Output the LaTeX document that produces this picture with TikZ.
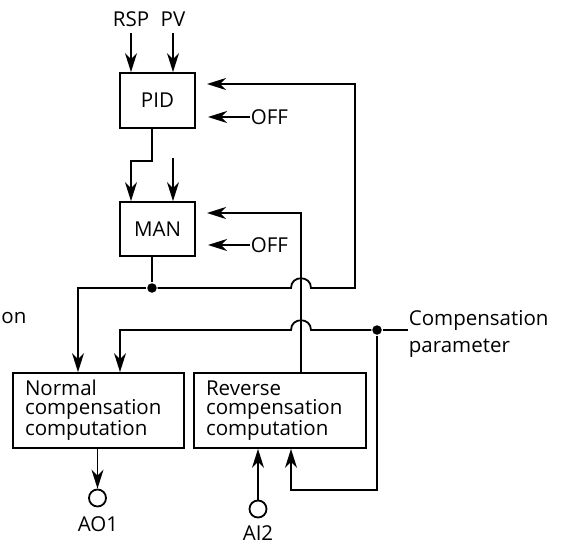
\documentclass[tikz,border=0pt]{standalone}
\usepackage{fontspec}
\setmainfont{Open Sans}
\usetikzlibrary{arrows.meta,calc}
\begin{document}
\begin{tikzpicture}[x=1pt,y=-1pt, line width=1.8pt,
  every node/.style={font=\fontsize{20.5}{19}\selectfont, inner sep=0pt},
  box/.style={draw, rectangle, line width=1.8pt},
  arr/.style={-{Stealth[length=19pt,width=12pt,inset=6pt]}},
  dot/.style={circle, fill, minimum size=9.5pt, inner sep=0pt},
  port/.style={circle, draw, minimum size=17pt, inner sep=0pt, line width=1.8pt}]
\useasboundingbox (0,0) rectangle (563,546);

% boxes
\node[box, minimum width=75pt, minimum height=55pt] (pid) at (157.5,100.5) {PID};
\node[box, minimum width=75pt, minimum height=54pt] (man) at (157.5,229) {MAN};
\node[box, minimum width=171pt, minimum height=75pt, text width=147pt, align=left] (norm) at (98.5,410.5) {Normal\\compensation\\computation};
\node[box, minimum width=172pt, minimum height=75pt, text width=148pt, align=left] (rev) at (280,410.5) {Reverse\\compensation\\computation};

% labels
\node[anchor=base] (rsp) at (131,27) {RSP};
\node[anchor=base] (pv) at (173,27) {PV};
\node[anchor=base west] (off1) at (250,124) {OFF};
\node[anchor=base west] (off2) at (250,252) {OFF};
\node[anchor=base west] (cp1) at (408,325) {Compensation};
\node[anchor=base west] (cp2) at (408,352) {parameter};
\node[anchor=base west] (on) at (0.5,323) {on};
\node[port] (ao1) at (97.5,498) {};
\node (ao1l) at (98,524.5) {AO1};
\node[port] (ai2) at (258,509) {};
\node (ai2l) at (258,533.5) {AI2};

% junctions and helper coordinates
\node[dot] (j1) at (152,288) {};
\node[dot] (j2) at (377,330) {};
\coordinate (off1t) at (208,117);
\coordinate (off2t) at (208,245);
\coordinate (fbpid) at (207,84);
\coordinate (fbman) at (207,213);
\coordinate (manin) at (173,158);
\coordinate (cpin) at (408,330);
\coordinate (c78) at (78,0);
\coordinate (c120) at (120,0);
\coordinate (c291) at (291,0);
\coordinate (c301) at (301,0);

% inputs to PID
\draw[arr] ([yshift=-5pt]rsp.south) -- (rsp.south |- pid.north);
\draw[arr] ([yshift=-5pt]pv.south) -- (pv.south |- pid.north);

% OFF arrows
\draw[arr] (off1.west |- off1t) -- (off1t);
\draw[arr] (off2.west |- off2t) -- (off2t);

% PID to MAN
\draw[arr] (pid.south -| j1) -- ++(0,32) -| (man.north -| rsp);
\draw[arr] (manin) -- (man.north -| manin);

% MAN output and feedback to PID
\draw (man.south -| j1) -- (j1);
\draw[arr] (j1) -- (291,288) .. controls (291,275) and (311,275) .. (311,288) -- (355,288) -- (355,84) -- (fbpid);
\draw[arr] (j1) -| (c78 |- norm.north);

% reverse computation feedback to MAN
\draw[arr] (c301 |- rev.north) -- (c301 |- fbman) -- (fbman);

% compensation parameter
\draw (cpin) -- (j2);
\draw[arr] (j2) -- (311,330) .. controls (311,317) and (291,317) .. (291,330) -- (120,330) -- (c120 |- norm.north);
\draw[arr] (j2) -- (377,490) -- (291,490) -- (c291 |- rev.south);

% outputs / inputs
\draw[arr] (norm.south -| ao1) -- (ao1.north);
\draw[arr] (ai2.north) -- (rev.south -| ai2);
\end{tikzpicture}
\end{document}
